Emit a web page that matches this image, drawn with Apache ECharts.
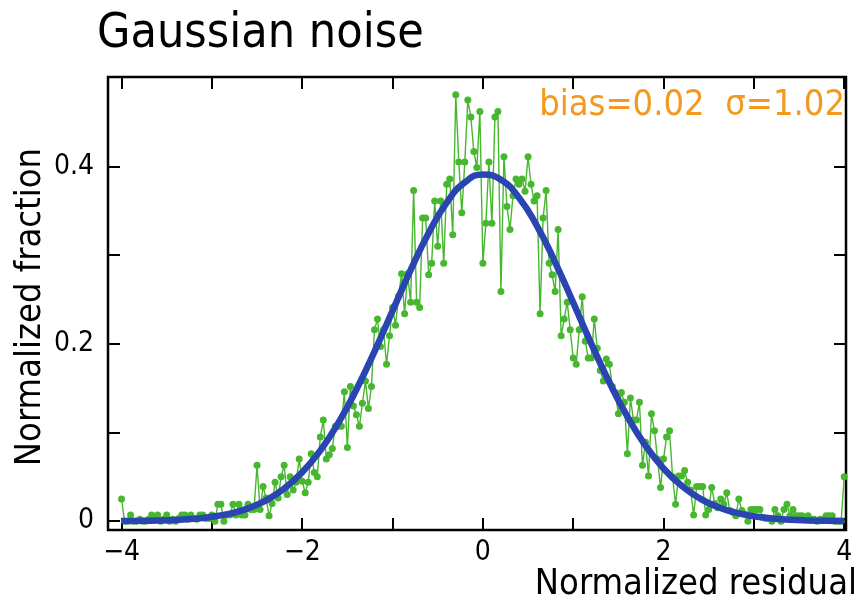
<!DOCTYPE html>
<html>
<head>
<meta charset="utf-8">
<script src="https://cdn.jsdelivr.net/npm/echarts@6/dist/echarts.min.js"></script>
<style>
html,body{margin:0;padding:0;background:#fff;}
#chart{width:858px;height:603px;}
</style>
</head>
<body>
<div id="chart"></div>
<script>
// ---- data ----
var titleText = 'Gaussian noise';
var xAxisName = 'Normalized residual';
var yAxisName = 'Normalized fraction';
var annotationText = 'bias=0.02  \u03c3=1.02';

// measured histogram: x from -4 to 4 in steps of 1/30
var histStart = -4;
var histStep = 1 / 30;
var histValues = [
  0.025,0.000,0.000,0.007,0.000,0.000,0.002,0.000,0.000,0.002,
  0.007,0.002,0.007,0.000,0.002,0.007,0.000,0.002,0.000,0.003,
  0.007,0.007,0.002,0.007,0.003,0.002,0.007,0.007,0.003,0.003,
  0.007,0.000,0.019,0.019,0.000,0.007,0.007,0.019,0.007,0.019,
  0.007,0.007,0.019,0.013,0.013,0.063,0.013,0.039,0.026,0.006,
  0.020,0.044,0.026,0.050,0.063,0.030,0.050,0.035,0.044,0.070,
  0.045,0.032,0.044,0.076,0.055,0.050,0.095,0.114,0.070,0.075,
  0.082,0.107,0.107,0.107,0.146,0.083,0.152,0.130,0.120,0.107,
  0.133,0.158,0.127,0.152,0.216,0.228,0.197,0.216,0.177,0.209,
  0.241,0.221,0.254,0.279,0.234,0.279,0.247,0.373,0.247,0.241,
  0.342,0.342,0.278,0.291,0.361,0.310,0.361,0.291,0.380,0.386,
  0.323,0.481,0.405,0.348,0.405,0.475,0.456,0.417,0.399,0.462,
  0.291,0.336,0.405,0.336,0.456,0.462,0.259,0.411,0.355,0.329,
  0.367,0.386,0.380,0.386,0.372,0.411,0.380,0.361,0.367,0.234,
  0.342,0.373,0.291,0.278,0.259,0.329,0.209,0.228,0.247,0.216,
  0.184,0.177,0.216,0.253,0.203,0.184,0.184,0.228,0.195,0.170,
  0.158,0.183,0.177,0.152,0.145,0.121,0.145,0.134,0.076,0.139,
  0.114,0.114,0.134,0.063,0.089,0.051,0.121,0.102,0.070,0.038,
  0.070,0.095,0.102,0.050,0.019,0.051,0.051,0.057,0.044,0.035,
  0.007,0.039,0.039,0.039,0.007,0.013,0.038,0.020,0.015,0.025,
  0.019,0.032,0.012,0.010,0.006,0.025,0.012,0.008,0.000,0.013,
  0.013,0.013,0.013,0.004,0.003,0.003,0.000,0.013,0.006,0.000,
  0.013,0.019,0.006,0.013,0.006,0.006,0.006,0.002,0.006,0.002,
  0.002,0.000,0.002,0.002,0.006,0.006,0.006,0.000,0.000,0.000,
  0.050
];

// fitted gaussian curve (bias 0.02, sigma 1.02), sampled every 0.2
var fitX = [-4,-3.8,-3.6,-3.4,-3.2,-3,-2.8,-2.6,-2.4,-2.2,-2,-1.8,-1.6,-1.4,-1.2,-1,-0.8,-0.6,-0.4,-0.2,
            0,0.2,0.4,0.6,0.8,1,1.2,1.4,1.6,1.8,2,2.2,2.4,2.6,2.8,3,3.2,3.4,3.6,3.8,4];
var fitY = [0.0002,0.00035,0.00072,0.00141,0.00268,0.00488,0.00856,0.01444,0.02345,0.03663,
            0.05503,0.07963,0.1108,0.1484,0.1913,0.2372,0.2831,0.3251,0.3593,0.3821,
            0.3910,0.3851,0.3649,0.3327,0.2920,0.2465,0.2003,0.1566,0.1178,0.0853,
            0.0594,0.0399,0.0257,0.0160,0.00953,0.00548,0.00303,0.00161,0.00083,0.00041,0.00019];

var xTicks = [-4,-3,-2,-1,0,1,2,3,4];
var xTickLabels = [-4,-2,0,2,4];
var yTicks = [0,0.1,0.2,0.3,0.4];
var yTickLabels = [0,0.2,0.4];

// ---- build ----
var FONT = "'DejaVu Sans Condensed','Liberation Sans Narrow','DejaVu Sans',sans-serif";
var histData = histValues.map(function (v, i) { return [histStart + i * histStep, v]; });
var fitData = fitX.map(function (x, i) { return [x, fitY[i]]; });

function fmt(v) { return String(v).replace('-', '\u2212'); }

var X_MIN = -4.15, X_MAX = 4.02, Y_MIN = -0.01, Y_MAX = 0.501;

function xAx(pos, labels) {
  return {
    type: 'value', position: pos, min: X_MIN, max: X_MAX,
    axisLine: { show: false, onZero: false },
    splitLine: { show: false },
    axisTick: { show: true, inside: true, length: 12, customValues: xTicks, lineStyle: { color: '#000', width: 2 } },
    axisLabel: { show: labels, customValues: xTickLabels, formatter: fmt, color: '#000', fontSize: 28, fontFamily: FONT, margin: 9 }
  };
}
function yAx(pos, labels) {
  return {
    type: 'value', position: pos, min: Y_MIN, max: Y_MAX,
    axisLine: { show: false, onZero: false },
    splitLine: { show: false },
    axisTick: { show: true, inside: true, length: 12, customValues: yTicks, lineStyle: { color: '#000', width: 2 } },
    axisLabel: { show: labels, customValues: yTickLabels, formatter: fmt, color: '#000', fontSize: 28, fontFamily: FONT, margin: 14 }
  };
}

var chart = echarts.init(document.getElementById('chart'), null, { renderer: 'canvas' });
chart.setOption({
  animation: false,
  backgroundColor: '#fff',
  grid: { left: 108, right: 12, top: 77, bottom: 73, show: true, borderColor: '#000', borderWidth: 2.5, backgroundColor: 'transparent' },
  xAxis: [xAx('bottom', true), xAx('top', false)],
  yAxis: [yAx('left', true), yAx('right', false)],
  series: [
    {
      type: 'line', data: histData, xAxisIndex: 0, yAxisIndex: 0,
      symbol: 'circle', symbolSize: 7, showSymbol: true,
      itemStyle: { color: '#46b72f' },
      lineStyle: { color: '#46b72f', width: 1.4 },
      z: 2
    },
    {
      type: 'line', data: fitData, xAxisIndex: 0, yAxisIndex: 0,
      smooth: 0.5, showSymbol: false, symbol: 'none',
      lineStyle: { color: '#2a44b2', width: 6.5 },
      z: 3
    }
  ],
  graphic: [
    { type: 'text', left: 97, top: 11, style: { text: titleText, font: "48px " + FONT, fill: '#000' } },
    { type: 'text', right: 1, top: 567, style: { text: xAxisName, font: "36px " + FONT, fill: '#000' } },
    { type: 'text', x: 31, y: 307, rotation: Math.PI / 2, style: { text: yAxisName, font: "36px " + FONT, fill: '#000', align: 'center', verticalAlign: 'middle' } },
    { type: 'text', right: 13, top: 88, style: { text: annotationText, font: "36px " + FONT, fill: '#f29a1f' } }
  ]
});
</script>
</body>
</html>
